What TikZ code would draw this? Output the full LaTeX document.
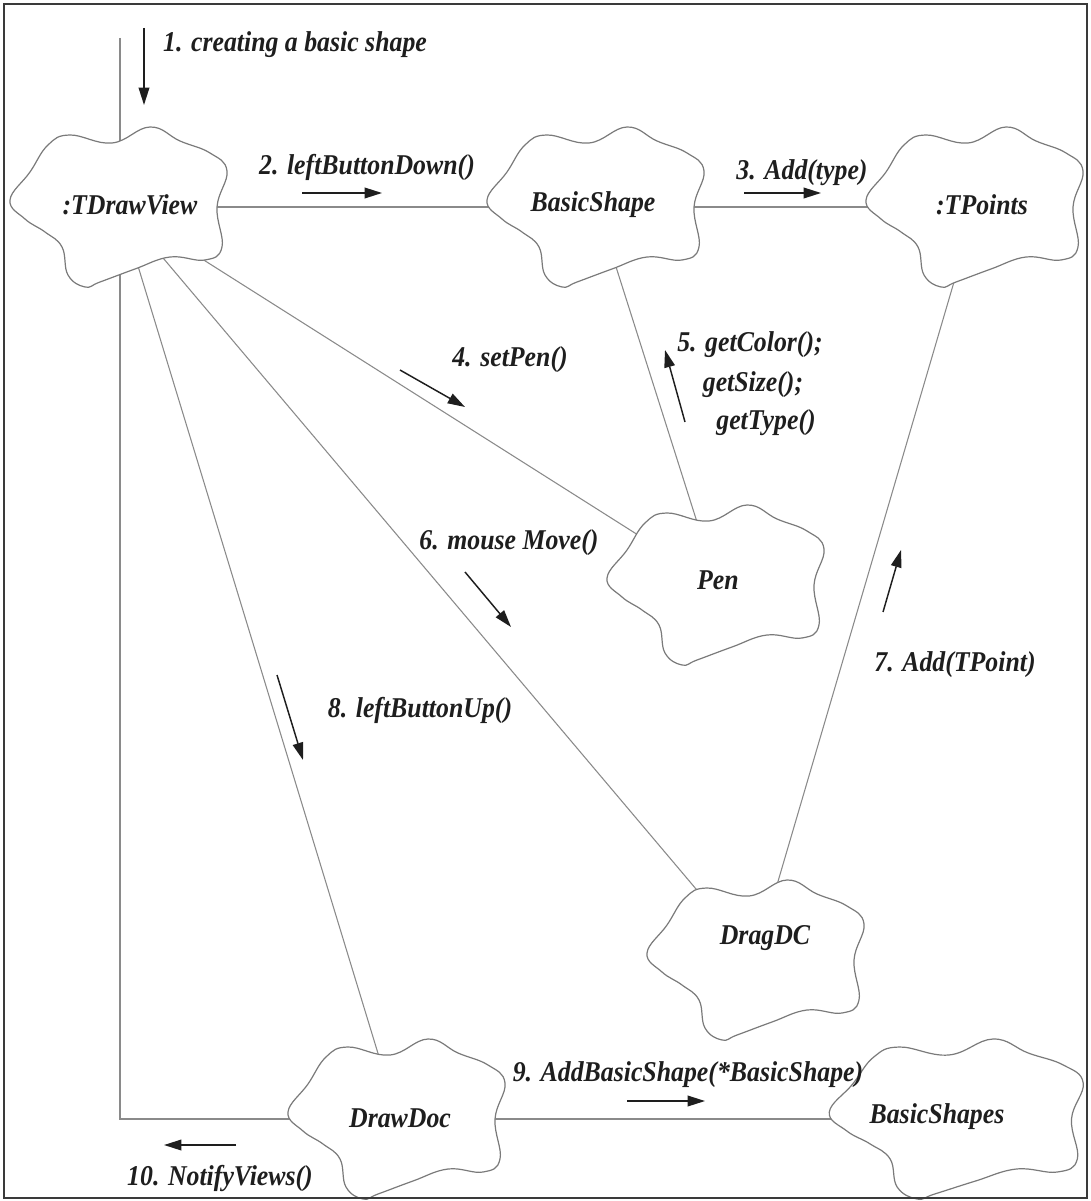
\documentclass[tikz,border=0pt]{standalone}
\usepackage{fontspec}
\setmainfont{Liberation Serif}[FakeStretch=0.9]
\usetikzlibrary{arrows.meta,calc}
\definecolor{linegray}{HTML}{8A8A8A}
\definecolor{blobgray}{HTML}{7A7A7A}
\definecolor{inkc}{HTML}{1E1E1E}
\definecolor{framec}{HTML}{3A3A3A}
\tikzset{
  cloudpic/.pic={
    \draw[draw=blobgray, fill=white, line width=0.9pt]
      plot[smooth cycle, tension=0.7] coordinates {
        (-110,-7) (-90,-35) (-72,-62) (-50,-72) (-8,-64)
        (30,-80) (60,-66) (90,-54) (107,-36) (97,0)
        (102,40) (85,53) (50,50) (15,62) (-20,75) (-35,80)
        (-52,68) (-58,40) (-75,25) (-95,12)};
  }
}
\begin{document}
\begin{tikzpicture}[x=0.75pt, y=-0.75pt,
  conn/.style={draw=linegray, line width=0.8pt},
  lbl/.style={font=\fontsize{21.5}{24}\selectfont\bfseries\itshape, text=inkc, inner sep=0pt},
  msg/.style={draw=inkc, line width=1.1pt, -{Triangle[length=13pt,width=8pt]}}]
\useasboundingbox (0,0) rectangle (1090,1201);

% object centres
\coordinate (entry)   at (120,38);
\coordinate (tdv)     at (120,207);
\coordinate (bshape)  at (597,207);
\coordinate (tpoints) at (976,207);
\coordinate (pen)     at (717,585);
\coordinate (dragdc)  at (757,960);
\coordinate (ddoc)    at (398,1119);
\coordinate (bshapes) at (958,1119);

% links between the objects
\draw[conn] (entry) -- (tdv);
\draw[conn] (tdv) -- (bshape);
\draw[conn] (bshape) -- (tpoints);
\draw[conn] (tdv) -- (pen);
\draw[conn] (bshape) -- (pen);
\draw[conn] (tdv) -- ($(dragdc)+(-50,-58)$);
\draw[conn] (tpoints) -- ($(dragdc)+(17,-65)$);
\draw[conn] (tdv) -- (ddoc);
\draw[conn] (tdv) |- (ddoc);
\draw[conn] (ddoc) -- (bshapes);

% object outlines
\pic at (tdv) {cloudpic};
\pic at (bshape) {cloudpic};
\pic at (tpoints) {cloudpic};
\pic at (pen) {cloudpic};
\pic at (dragdc) {cloudpic};
\pic at (ddoc) {cloudpic};
\pic[xscale=1.17] at (bshapes) {cloudpic};

% object names
\node[lbl] (tdv-t)     at (130,205)  {:TDrawView};
\node[lbl] (bshape-t)  at (593,205)  {BasicShape};
\node[lbl] (tpoints-t) at (982,205)  {:TPoints};
\node[lbl] (pen-t)     at (718,580)  {Pen};
\node[lbl] (dragdc-t)  at (765,938)  {DragDC};
\node[lbl] (ddoc-t)    at (400,1118) {DrawDoc};
\node[lbl] (bshapes-t) at (937,1117) {BasicShapes};

% messages
\coordinate (m1a) at (144,28);   \coordinate (m1b) at (144,105);
\draw[msg] (m1a) -- (m1b);
\node[lbl] (m1) at (295,45) {1. creating a basic shape};

\coordinate (m2a) at (302,193);  \coordinate (m2b) at (382,193);
\draw[msg] (m2a) -- (m2b);
\node[lbl] (m2) at (367,167) {2. leftButtonDown()};

\coordinate (m3a) at (744,193);  \coordinate (m3b) at (821,193);
\draw[msg] (m3a) -- (m3b);
\node[lbl] (m3) at (802,173) {3. Add(type)};

\coordinate (m4a) at (400,370);  \coordinate (m4b) at (465,407);
\draw[msg] (m4a) -- (m4b);
\node[lbl] (m4) at (510,360) {4. setPen()};

\coordinate (m5a) at (685,422);  \coordinate (m5b) at (665,350);
\draw[msg] (m5a) -- (m5b);
\node[lbl] (m5a-t) at (750,345) {5. getColor();};
\node[lbl] (m5b-t) at (753,385) {getSize();};
\node[lbl] (m5c-t) at (766,423) {getType()};

\coordinate (m6a) at (465,572);  \coordinate (m6b) at (511,627);
\draw[msg] (m6a) -- (m6b);
\node[lbl] (m6) at (509,543) {6. mouse Move()};

\coordinate (m7a) at (883,612);  \coordinate (m7b) at (901,550);
\draw[msg] (m7a) -- (m7b);
\node[lbl] (m7) at (955,665) {7. Add(TPoint)};

\coordinate (m8a) at (277,675);  \coordinate (m8b) at (303,760);
\draw[msg] (m8a) -- (m8b);
\node[lbl] (m8) at (420,710) {8. leftButtonUp()};

\coordinate (m9a) at (627,1101); \coordinate (m9b) at (705,1101);
\draw[msg] (m9a) -- (m9b);
\node[lbl] (m9) at (688,1075) {9. AddBasicShape(*BasicShape)};

\coordinate (m10a) at (236,1145); \coordinate (m10b) at (164,1145);
\draw[msg] (m10a) -- (m10b);
\node[lbl] (m10) at (220,1178) {10. NotifyViews()};

% frame
\draw[draw=framec, line width=1.6pt] (4,4) rectangle (1087,1198);
\end{tikzpicture}
\end{document}
